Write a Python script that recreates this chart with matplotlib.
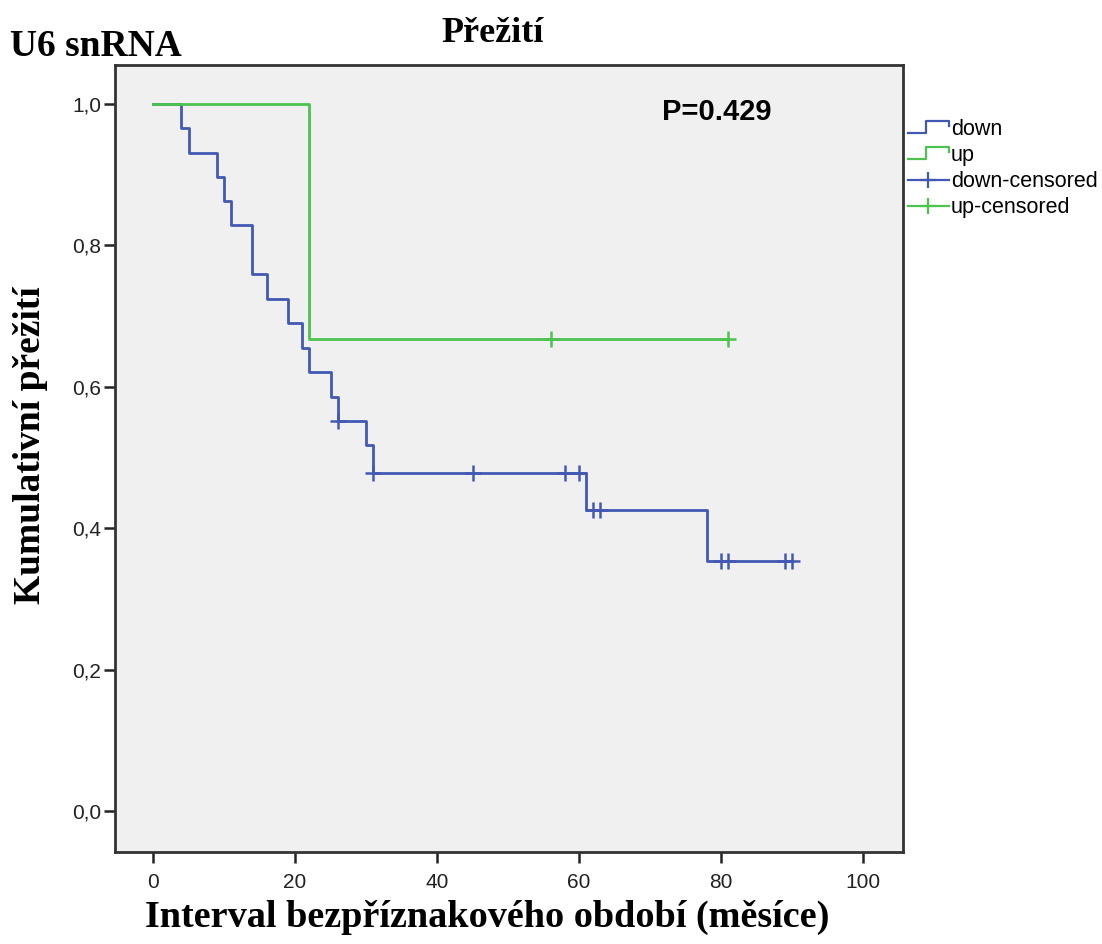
import matplotlib
matplotlib.use("Agg")
import matplotlib.pyplot as plt
from matplotlib.lines import Line2D
from matplotlib.legend_handler import HandlerBase

# step curves (time in months, cumulative survival)
down_t = [0, 4, 5, 9, 10, 11, 14, 16, 19, 21, 22, 25, 26, 30, 31, 61, 78, 90]
down_s = [1.0, 0.966, 0.931, 0.897, 0.862, 0.828, 0.759, 0.724, 0.690, 0.655,
          0.621, 0.586, 0.552, 0.517, 0.478, 0.425, 0.354, 0.354]
down_cens_t = [26, 31, 45, 58, 60, 62, 63, 80, 81, 89, 90]
down_cens_s = [0.552, 0.478, 0.478, 0.478, 0.478, 0.425, 0.425, 0.354, 0.354, 0.354, 0.354]

up_t = [0, 22, 81]
up_s = [1.0, 0.667, 0.667]
up_cens_t = [56, 81]
up_cens_s = [0.667, 0.667]

xticks = [0, 20, 40, 60, 80, 100]
yticks = [0.0, 0.2, 0.4, 0.6, 0.8, 1.0]
ytick_labels = ["0,0", "0,2", "0,4", "0,6", "0,8", "1,0"]
legend_labels = ["down", "up", "down-censored", "up-censored"]

blue = "#4259b3"
green = "#4cc24f"
serif = "Liberation Serif"
sans = "Liberation Sans"


class StepHandler(HandlerBase):
    def create_artists(self, legend, orig_handle, xdescent, ydescent,
                       width, height, fontsize, trans):
        lo = -ydescent + 0.15 * height
        hi = -ydescent + 0.95 * height
        x0 = -xdescent
        xs = [x0, x0 + 0.45 * width, x0 + 0.45 * width, x0 + width, x0 + width]
        ys = [lo, lo, hi, hi, hi - 0.35 * height]
        ln = Line2D(xs, ys, color=orig_handle.get_color(), lw=1.6, transform=trans)
        return [ln]


fig = plt.figure(figsize=(11.02, 9.44), dpi=100)
ax = fig.add_axes([0.1044, 0.0975, 0.715, 0.8337])
ax.set_facecolor("#f0f0f0")

ax.step(down_t, down_s, where="post", color=blue, lw=2, zorder=3)
ax.plot(down_cens_t, down_cens_s, ls="none", marker="+", ms=12, mew=1.8, color=blue, zorder=3)
ax.step(up_t, up_s, where="post", color=green, lw=2, zorder=4)
ax.plot(up_cens_t, up_cens_s, ls="none", marker="+", ms=12, mew=1.8, color=green, zorder=4)

ax.set_xlim(-5.35, 105.6)
ax.set_ylim(-0.058, 1.055)
ax.set_xticks(xticks)
ax.set_yticks(yticks)
ax.set_yticklabels(ytick_labels)
ax.tick_params(direction="out", length=8, width=1.8, color="#222222",
               labelsize=15)
ax.tick_params(axis="x", pad=7)
ax.tick_params(axis="y", pad=2)
for lab in ax.get_xticklabels() + ax.get_yticklabels():
    lab.set_fontfamily(sans)
    lab.set_color("#222222")
for sp in ax.spines.values():
    sp.set_linewidth(2)
    sp.set_color("#333333")

ax.text(79.4, 0.989, "P=0.429", fontsize=21, fontweight="bold", family=sans,
        ha="center", va="center")

fig.text(0.009, 0.951, "U6 snRNA", fontsize=27, fontweight="bold", family=serif,
         ha="left", va="center")
fig.text(0.447, 0.965, "Přežití", fontsize=26, fontweight="bold", family=serif,
         ha="center", va="center")
fig.text(0.028, 0.528, "Kumulativní přežití", fontsize=27, fontweight="bold",
         family=serif, rotation=90, ha="center", va="center")
fig.text(0.442, 0.028, "Interval bezpříznakového období (měsíce)", fontsize=27.5,
         fontweight="bold", family=serif, ha="center", va="center")

handles = [Line2D([], [], color=blue), Line2D([], [], color=green),
           Line2D([], [], color=blue, marker="+", ms=12, mew=1.6, lw=1.6),
           Line2D([], [], color=green, marker="+", ms=12, mew=1.6, lw=1.6)]
leg = fig.legend(handles, legend_labels, loc="upper left",
                 bbox_to_anchor=(0.824, 0.874), frameon=False,
                 prop={"family": sans, "size": 15.5},
                 handlelength=1.9, handletextpad=0.1, labelspacing=0.24,
                 borderaxespad=0, borderpad=0,
                 handler_map={handles[0]: StepHandler(), handles[1]: StepHandler()})

fig.savefig("out.png", dpi=100, facecolor="white")
